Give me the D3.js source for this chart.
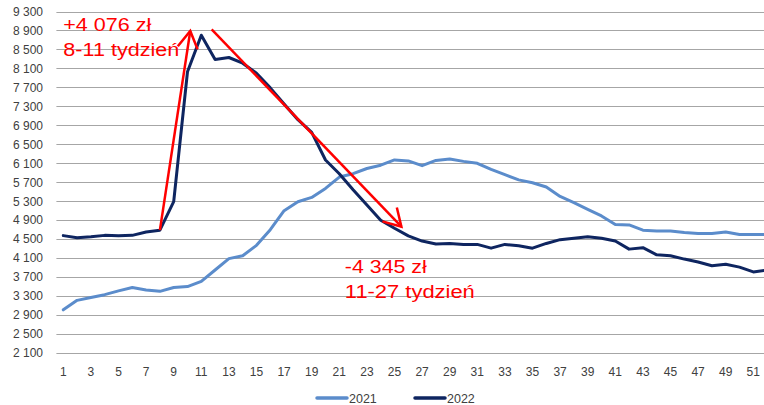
<!DOCTYPE html>
<html lang="pl">
<head>
  <meta charset="UTF-8"/>
  <title>Tygodniowe ceny 2021 vs 2022</title>
  <script src="https://d3js.org/d3.v7.min.js"></script>
  <style>
    body { margin: 0; background: #fff; }
    svg text { font-family: "Liberation Sans", Arial, sans-serif; }
  </style>
</head>
<body>
<script>

var weeks = d3.range(1, 53);

var series2021 = [3010, 3210, 3270, 3330, 3410, 3480, 3430, 3400, 3480, 3500,
                  3610, 3850, 4090, 4150, 4370, 4700, 5100, 5290, 5380, 5570,
                  5810, 5880, 5990, 6060, 6170, 6150, 6050, 6160, 6190, 6140,
                  6100, 5970, 5860, 5750, 5690, 5600, 5400, 5270, 5130, 4990,
                  4810, 4800, 4690, 4670, 4670, 4640, 4620, 4620, 4650, 4600,
                  4600, 4600];

var series2022 = [4575, 4530, 4550, 4580, 4570, 4580, 4650, 4690, 5290, 8030,
                  8800, 8290, 8330, 8210, 8000, 7690, 7350, 7020, 6750, 6170,
                  5880, 5540, 5220, 4900, 4730, 4570, 4460, 4400, 4410, 4390,
                  4390, 4310, 4390, 4360, 4310, 4410, 4490, 4520, 4550, 4520,
                  4460, 4290, 4320, 4170, 4150, 4080, 4020, 3940, 3970, 3910,
                  3810, 3850];

var yTicks = d3.range(2100, 9301, 400);
var xTicks = d3.range(1, 52, 2);

var seriesNames = ["2021", "2022"];
var seriesColors = ["#5b8ccb", "#0e2560"];

// red annotations: [week, value] start and end
var arrows = [
  { from: [8, 4690], to: [10.2, 8890] },
  { from: [11.75, 8925], to: [25.5, 4762] }
];
var notes = [
  { lines: ["+4 076 zł", "8-11 tydzień"], week: 1, value: 8880, widths: [88, 116] },
  { lines: ["-4 345 zł", "11-27 tydzień"], week: 21.4, value: 3790, widths: [82, 130] }
];

var w = 764;
var h = 405;

var x = d3.scaleLinear()
          .domain([1, 52])
          .range([63.3, 63.3 + 51 * 13.8]);

var y = d3.scaleLinear()
          .domain([2100, 9300])
          .range([353, 11.5]);

var svg = d3.select("body")
            .append("svg")
            .attr("width", w)
            .attr("height", h);

var defs = svg.append("defs");
defs.append("marker")
    .attr("id", "head")
    .attr("markerUnits", "userSpaceOnUse")
    .attr("markerWidth", 30)
    .attr("markerHeight", 30)
    .attr("viewBox", "-20 -15 30 30")
    .attr("refX", 0)
    .attr("refY", 0)
    .attr("orient", "auto")
    .append("path")
    .attr("d", "M-17,-10 L0,0 L-17,10")
    .attr("fill", "none")
    .attr("stroke", "#ff0000")
    .attr("stroke-width", 2.5);

// grid + y labels
svg.selectAll("line.grid")
   .data(yTicks)
   .enter()
   .append("line")
   .attr("class", "grid")
   .attr("x1", x(1) - 6.9)
   .attr("x2", x(52) + 6.9)
   .attr("y1", function(d) { return Math.round(y(d)) + 0.5; })
   .attr("y2", function(d) { return Math.round(y(d)) + 0.5; })
   .attr("stroke", "#a6a6a6")
   .attr("stroke-width", 1);

svg.selectAll("text.ylab")
   .data(yTicks)
   .enter()
   .append("text")
   .attr("class", "ylab")
   .attr("x", 43)
   .attr("y", function(d) { return y(d) + 4.3; })
   .attr("text-anchor", "end")
   .attr("font-size", 12)
   .attr("fill", "#404040")
   .text(function(d) { return d3.format(",")(d).replace(",", " "); });

svg.selectAll("text.xlab")
   .data(xTicks)
   .enter()
   .append("text")
   .attr("class", "xlab")
   .attr("x", function(d) { return x(d); })
   .attr("y", 376)
   .attr("text-anchor", "middle")
   .attr("font-size", 12)
   .attr("fill", "#404040")
   .text(function(d) { return d; });

// series lines
var line = d3.line()
             .x(function(d, i) { return x(weeks[i]); })
             .y(function(d) { return y(d); });

[series2021, series2022].forEach(function(s, k) {
  svg.append("path")
     .datum(s)
     .attr("d", line)
     .attr("fill", "none")
     .attr("stroke", seriesColors[k])
     .attr("stroke-width", 3)
     .attr("stroke-linejoin", "round")
     .attr("stroke-linecap", "round");
});

// annotations
svg.selectAll("line.arrow")
   .data(arrows)
   .enter()
   .append("line")
   .attr("class", "arrow")
   .attr("x1", function(d) { return x(d.from[0]); })
   .attr("y1", function(d) { return y(d.from[1]); })
   .attr("x2", function(d) { return x(d.to[0]); })
   .attr("y2", function(d) { return y(d.to[1]); })
   .attr("stroke", "#ff0000")
   .attr("stroke-width", 2.5)
   .attr("marker-end", "url(#head)");

notes.forEach(function(n) {
  n.lines.forEach(function(t, i) {
    svg.append("text")
       .attr("x", x(n.week))
       .attr("y", y(n.value) + i * 25)
       .attr("font-size", 17.5)
       .attr("fill", "#ff0000")
       .attr("textLength", n.widths[i])
       .attr("lengthAdjust", "spacingAndGlyphs")
       .text(t);
  });
});

// legend
var legend = svg.selectAll("g.legend")
                .data(seriesNames)
                .enter()
                .append("g")
                .attr("class", "legend")
                .attr("transform", function(d, i) { return "translate(" + (317 + i * 98) + ",398)"; });

legend.append("line")
      .attr("x1", 0)
      .attr("x2", 30)
      .attr("stroke", function(d, i) { return seriesColors[i]; })
      .attr("stroke-width", 3.5)
      .attr("stroke-linecap", "round");

legend.append("text")
      .attr("x", 32)
      .attr("y", 4.5)
      .attr("font-size", 12.5)
      .attr("fill", "#404040")
      .text(function(d) { return d; });

</script>
</body>
</html>
